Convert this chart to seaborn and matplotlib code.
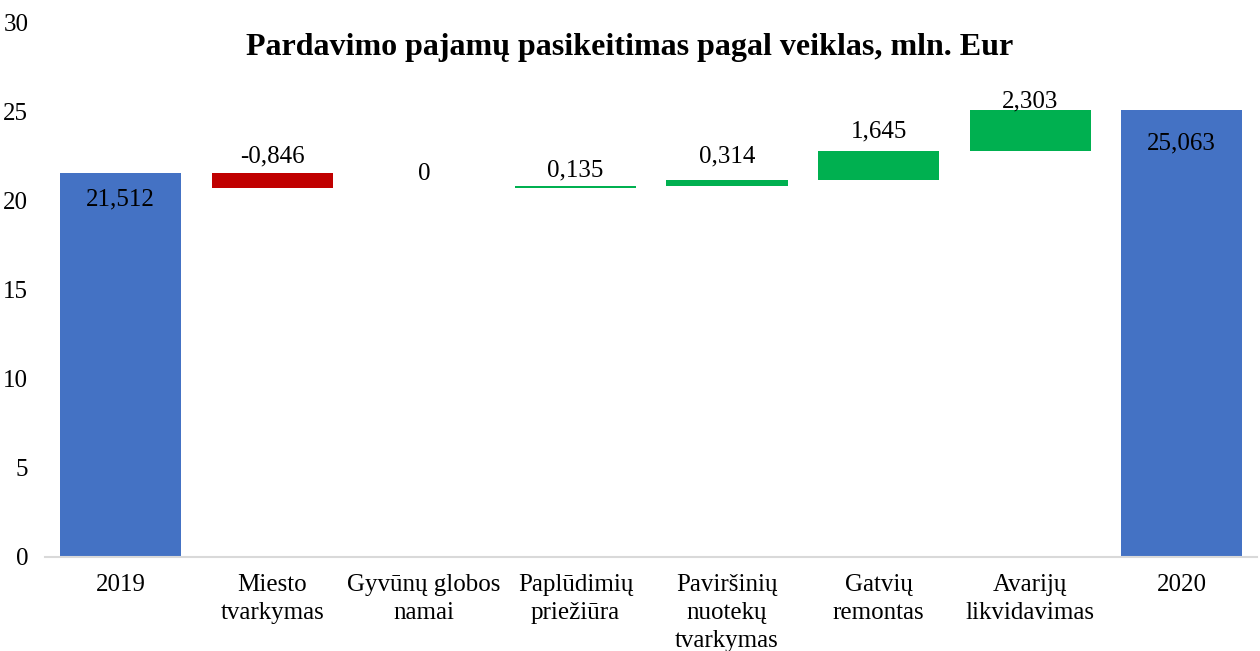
import numpy as np
import matplotlib.pyplot as plt
import seaborn as sns

# data
categories = ['2019', 'Miesto\ntvarkymas', 'Gyvūnų globos\nnamai', 'Paplūdimių\npriežiūra',
              'Paviršinių\nnuotekų\ntvarkymas', 'Gatvių\nremontas', 'Avarijų\nlikvidavimas', '2020']
start_total = 21.512
changes = [-0.846, 0.0, 0.135, 0.314, 1.645, 2.303]
end_total = 25.063
y_ticks = [0, 5, 10, 15, 20, 25, 30]

sns.set_style("white")
plt.rcParams['font.family'] = ['Liberation Serif', 'DejaVu Serif']
plt.rcParams['text.color'] = 'black'
plt.rcParams['xtick.color'] = 'black'
plt.rcParams['ytick.color'] = 'black'

blue = '#4472C4'
red = '#C00000'
green = '#00B050'

# build waterfall bottoms / heights
bottoms = [0]
heights = [start_total]
colors = [blue]
level = start_total
for c in changes:
    if c < 0:
        bottoms.append(level + c)
        heights.append(-c)
        colors.append(red)
    else:
        bottoms.append(level)
        heights.append(c)
        colors.append(green)
    level += c
bottoms.append(0)
heights.append(end_total)
colors.append(blue)

fig = plt.figure(figsize=(12.6, 6.51), dpi=100)
ax = fig.add_axes([0.0357, 0.1444, 0.9623, 0.8218])

x = np.arange(len(categories))
ax.bar(x, heights, bottom=bottoms, width=0.8, color=colors, linewidth=0)

fmt = lambda v: f"{v:.3f}".replace('.', ',') if v != 0 else '0'

# labels for totals (inside the bar top)
for i, v, off in [(0, start_total, -18.5), (len(categories) - 1, end_total, -24)]:
    ax.annotate(fmt(v), (x[i], v), xytext=(0, off), textcoords='offset points',
                ha='center', va='center', fontsize=18, color='black')

# labels for changes (above the bar)
offsets = [12, 10.5, 11.5, 17.5, 14, 6.5]
for k, c in enumerate(changes):
    i = k + 1
    top = bottoms[i] + heights[i]
    ax.annotate(fmt(c), (x[i], top), xytext=(0, offsets[k]), textcoords='offset points',
                ha='center', va='center', fontsize=18, color='black')

ax.set_xlim(-0.5, len(categories) - 0.5)
ax.set_ylim(0, 30)
ax.set_yticks(y_ticks)
ax.set_yticklabels([str(t) for t in y_ticks], fontsize=18)
ax.set_xticks(x)
ax.set_xticklabels(categories, fontsize=18, linespacing=1.37)
ax.tick_params(axis='both', length=0)
ax.tick_params(axis='y', pad=12)
ax.tick_params(axis='x', pad=12)

sns.despine(ax=ax, left=True)
ax.spines['bottom'].set_color('#D9D9D9')
ax.spines['bottom'].set_linewidth(1.5)

fig.text(0.5, 0.927, 'Pardavimo pajamų pasikeitimas pagal veiklas, mln. Eur',
         ha='center', va='center', fontsize=23, fontweight='bold', color='black')

fig.savefig('out.png', dpi=100)
